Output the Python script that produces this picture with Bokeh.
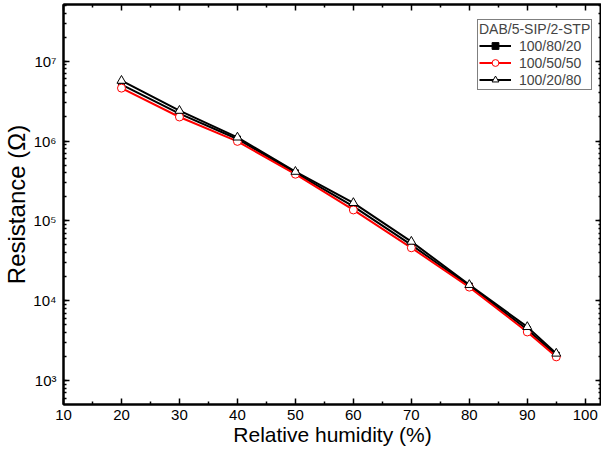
from bokeh.plotting import figure
from bokeh.models import (LinearAxis, LogAxis, Legend, LegendItem, CustomJSTickFormatter,
                          FixedTicker, Range1d)
from bokeh.embed import file_html
from bokeh.resources import INLINE

# ---- data ----
humidity = [20, 30, 40, 50, 60, 70, 80, 90, 95]
r_100_80_20 = [5.1e6, 2.2e6, 1.06e6, 4.0e5, 1.52e5, 5.0e4, 1.53e4, 4.35e3, 2.08e3]
r_100_50_50 = [4.6e6, 2.0e6, 9.9e5, 3.84e5, 1.37e5, 4.6e4, 1.48e4, 4.06e3, 1.98e3]
r_100_20_80 = [5.7e6, 2.4e6, 1.11e6, 4.13e5, 1.68e5, 5.5e4, 1.58e4, 4.7e3, 2.18e3]
labels = ["100/80/20", "100/50/50", "100/20/80"]
legend_title = "DAB/5-SIP/2-STP"
x_ticks = [10, 20, 30, 40, 50, 60, 70, 80, 90, 100]
x_minor = [15, 25, 35, 45, 55, 65, 75, 85, 95]

FONT = "Liberation Sans"

p = figure(width=601, height=448, output_backend="svg", toolbar_location=None,
           y_axis_type="log",
           x_range=Range1d(10, 102.8), y_range=Range1d(10**2.70, 10**7.71),
           min_border_left=0, min_border_right=0, min_border_top=4, min_border_bottom=0)
p.xgrid.visible = False
p.ygrid.visible = False
p.outline_line_color = "black"
p.outline_line_width = 2
p.background_fill_color = "white"
p.border_fill_color = "white"

fmt = CustomJSTickFormatter(code="""
const sup = {'0':'\u2070','1':'\u00b9','2':'\u00b2','3':'\u00b3','4':'\u2074','5':'\u2075','6':'\u2076','7':'\u2077','8':'\u2078','9':'\u2079','-':'\u207b'};
const e = Math.round(Math.log10(tick));
return '10' + String(e).split('').map(c => sup[c]).join('');
""")
blank = CustomJSTickFormatter(code="return '';")

def style_axis(ax):
    ax.axis_line_width = 2
    ax.axis_line_color = "black"
    ax.major_tick_in = 6
    ax.major_tick_out = 0
    ax.minor_tick_in = 3
    ax.minor_tick_out = 0
    ax.major_tick_line_width = 1.5
    ax.minor_tick_line_width = 1.5
    ax.major_label_text_font = FONT
    ax.major_label_text_color = "black"
    ax.axis_label_text_font = FONT
    ax.axis_label_text_font_style = "normal"
    ax.axis_label_text_color = "black"

xa = p.xaxis[0]
xa.ticker = FixedTicker(ticks=x_ticks, minor_ticks=x_minor)
style_axis(xa)
xa.major_label_text_font_size = "15px"
xa.major_label_standoff = 5
xa.axis_label = "Relative humidity (%)"
xa.axis_label_text_font_size = "21px"
xa.axis_label_standoff = 0

ya = p.yaxis[0]
ya.ticker.num_minor_ticks = 10
ya.formatter = fmt
style_axis(ya)
ya.major_label_text_font_size = "15px"
ya.major_label_standoff = 7
ya.axis_label = "Resistance (\u03a9)"
ya.axis_label_text_font_size = "24px"
ya.axis_label_standoff = 0

top = LinearAxis(ticker=FixedTicker(ticks=x_ticks, minor_ticks=x_minor), formatter=blank)
style_axis(top)
top.major_label_standoff = 0
p.add_layout(top, "above")
right = LogAxis(formatter=blank)
right.ticker.num_minor_ticks = 10
style_axis(right)
right.major_label_standoff = 0
p.add_layout(right, "right")

l1 = p.line(humidity, r_100_80_20, line_color="black", line_width=2)
s1 = p.scatter(humidity, r_100_80_20, marker="square", size=6, fill_color="black", line_color="black")
l2 = p.line(humidity, r_100_50_50, line_color="red", line_width=2)
s2 = p.scatter(humidity, r_100_50_50, marker="circle", size=8, fill_color="white", line_color="red", line_width=1)
l3 = p.line(humidity, r_100_20_80, line_color="black", line_width=2)
s3 = p.scatter(humidity, r_100_20_80, marker="triangle", size=9, fill_color="white", line_color="black", line_width=1)

legend = Legend(items=[LegendItem(label=labels[0], renderers=[l1, s1]),
                       LegendItem(label=labels[1], renderers=[l2, s2]),
                       LegendItem(label=labels[2], renderers=[l3, s3])],
                location=(414, 314), title=legend_title)
legend.title_text_font = FONT
legend.title_text_font_style = "normal"
legend.title_text_font_size = "14px"
legend.title_standoff = 0
legend.label_text_font = FONT
legend.label_text_font_size = "14px"
legend.label_height = 17
legend.glyph_height = 17
legend.glyph_width = 32
legend.label_standoff = 8
legend.spacing = 0
legend.padding = 1
legend.margin = 0
legend.border_line_color = "black"
legend.border_line_width = 1
legend.background_fill_alpha = 1
p.add_layout(legend)

open("out.html", "w").write(file_html(p, INLINE))
